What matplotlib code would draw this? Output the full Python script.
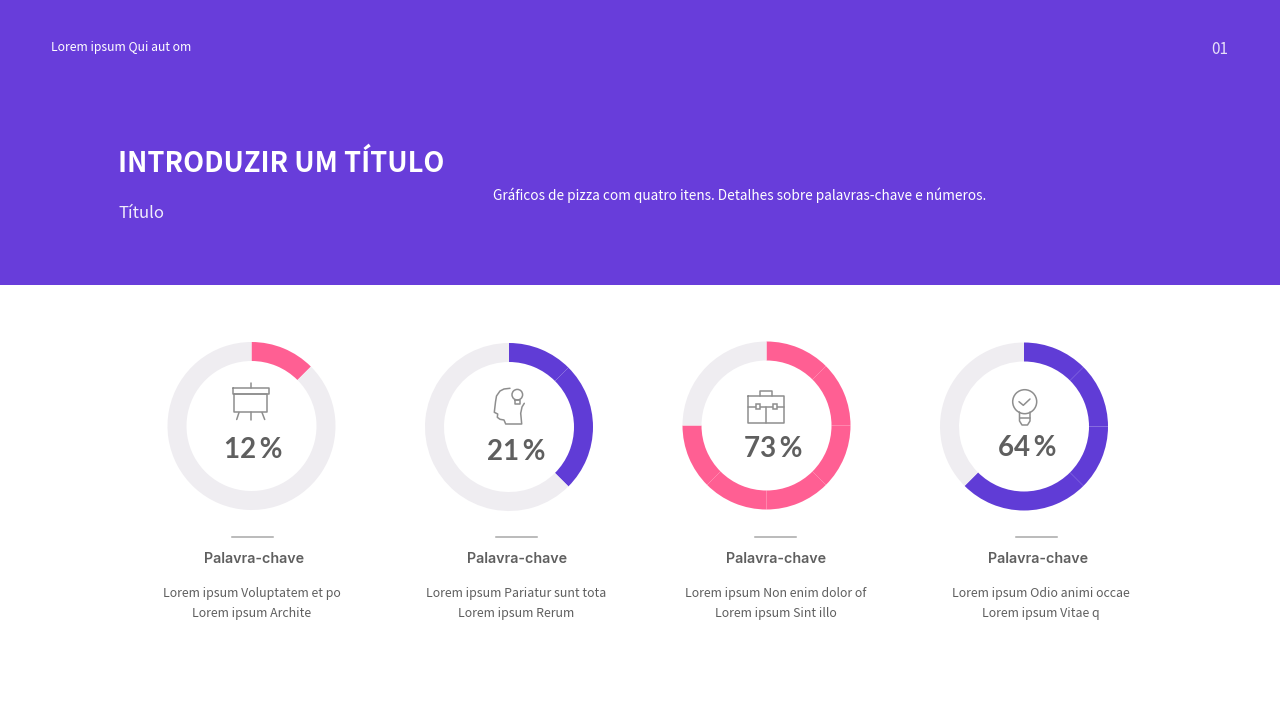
import matplotlib
matplotlib.use('Agg')
import matplotlib.pyplot as plt
from matplotlib.patches import Rectangle, Circle

# valores
labels = ['12\u2009%', '21\u2009%', '73\u2009%', '64\u2009%']
filled = [12.5, 37.5, 75.0, 62.5]      # arco desenhado, nem sempre igual ao rotulo
colors = ['#FF5F93', '#603CD6', '#FF5F93', '#603CD6']
keyword = 'Palavra-chave'
body1 = ['Lorem ipsum Voluptatem et po', 'Lorem ipsum Pariatur sunt tota',
         'Lorem ipsum Non enim dolor of', 'Lorem ipsum Odio animi occae']
body2 = ['Lorem ipsum Archite', 'Lorem ipsum Rerum', 'Lorem ipsum Sint illo', 'Lorem ipsum Vitae q']
step = 12.5

# posicoes em pixels
ring_x = [251.5, 509, 766.5, 1024]
ring_y = [426, 427, 425.5, 426.5]
label_x = [253.5, 516.5, 773.5, 1027]
label_y = [450, 452, 449, 448]
rule_x = [252, 516, 775, 1036]
key_x = [254, 517, 776, 1038]
body_x = [252, 516, 776, 1041]

PURPLE = '#683DDA'
GREY = '#EFEDF1'
TEXT = '#5F5F5F'
ICON = '#8E8E8E'
KR = 'Noto Sans CJK KR'
R = 84

fig = plt.figure(figsize=(12.8, 7.2), dpi=100, facecolor='white')
bg = fig.add_axes([0, 0, 1, 1])
bg.set_xlim(0, 1280)
bg.set_ylim(720, 0)
bg.axis('off')
bg.add_patch(Rectangle((0, 0), 1280, 285, color=PURPLE, lw=0))

bg.text(51, 48, 'Lorem ipsum Qui aut om', color='white', fontsize=8.75, family=KR, va='center')
bg.text(1228, 50, '01', color='#E6DFF8', fontsize=11, family=KR, va='center', ha='right')
bg.text(118, 164, 'INTRODUZIR UM TÍTULO', color='white', fontsize=19.6, family=KR,
        weight='bold', va='center')
bg.text(118.5, 214, 'Título', color='#F0ECFB', fontsize=12, family=KR, va='center')
bg.text(493, 195, 'Gráficos de pizza com quatro itens. Detalhes sobre palavras-chave e números.',
        color='white', fontsize=9.8, family=KR, va='center')

# aneis
for i in range(4):
    x, y = ring_x[i], ring_y[i]
    ax = fig.add_axes([(x - R) / 1280, 1 - (y + R) / 720, 2 * R / 1280, 2 * R / 720])
    n = int(filled[i] / step)
    sizes = [step] * n + [100 - filled[i]]
    cols = [colors[i]] * n + [GREY]
    ax.pie(sizes, colors=cols, startangle=90, counterclock=False, radius=1,
           wedgeprops=dict(width=19 / R, linewidth=0))
    ax.set_xlim(-1, 1)
    ax.set_ylim(-1, 1)

top = fig.add_axes([0, 0, 1, 1], zorder=5)
top.set_xlim(0, 1280)
top.set_ylim(720, 0)
top.axis('off')
top.patch.set_alpha(0)


def line(xs, ys):
    top.plot(xs, ys, color=ICON, lw=1.1, solid_capstyle='round', solid_joinstyle='round')


def box(x0, y0, x1, y1):
    line([x0, x1, x1, x0, x0], [y0, y0, y1, y1, y0])


# quadro
box(232.5, 387.5, 268.5, 393.5)
box(234, 393.5, 267, 412)
line([250.5, 250.5], [383, 387.5])
line([250.5, 250.5], [412, 419.5])
line([239, 236.7], [412.5, 419.5])
line([262, 264.7], [412.5, 419.5])
# cabeca
line([510, 504, 500, 496.5, 495.5, 494.3, 497.7, 497.3, 500, 504, 505.7, 521.7, 520.7, 522, 524.3],
     [388.3, 389, 391, 396, 402, 412.3, 414, 417.3, 419.3, 420, 424, 424, 413.3, 407, 403.3])
top.add_patch(Circle((517.3, 394.7), 5.3, fill=False, ec=ICON, lw=1.1))
box(515, 400, 519.5, 403.5)
# pasta
box(748.3, 395.7, 784.3, 423.3)
line([760, 760, 772.3, 772.3], [395.7, 390.7, 390.7, 395.7])
line([748.3, 784.3], [406.7, 406.7])
line([766, 766], [406.7, 423.3])
top.add_patch(Rectangle((755.5, 404.2), 4, 5, fc='white', ec=ICON, lw=1.1, zorder=4))
top.add_patch(Rectangle((772.5, 404.2), 4, 5, fc='white', ec=ICON, lw=1.1, zorder=4))
# lampada
top.add_patch(Circle((1024.7, 401.7), 12, fill=False, ec=ICON, lw=1.1))
line([1019.5, 1019.5, 1022, 1027.5, 1030, 1030], [412, 421, 425, 425, 421, 412])
line([1019.5, 1030], [418.3, 418.3])
line([1019, 1023.3, 1030], [401.7, 405.3, 399])

for i in range(4):
    top.text(label_x[i], label_y[i], labels[i], color=TEXT, fontsize=20, family=['Lato', 'DejaVu Sans'],
             weight='bold', ha='center', va='center')
    top.plot([rule_x[i] - 20.5, rule_x[i] + 20.5], [537, 537], color='#A8A8A8', lw=1.1)
    top.text(key_x[i], 559, keyword, color=TEXT, fontsize=10.3, family='Inter', weight='semibold',
             ha='center', va='center')
    top.text(body_x[i], 593, body1[i], color=TEXT, fontsize=8.9, family=KR, ha='center', va='center')
    top.text(body_x[i], 613, body2[i], color=TEXT, fontsize=8.9, family=KR, ha='center', va='center')

fig.savefig('out.png', dpi=100)
